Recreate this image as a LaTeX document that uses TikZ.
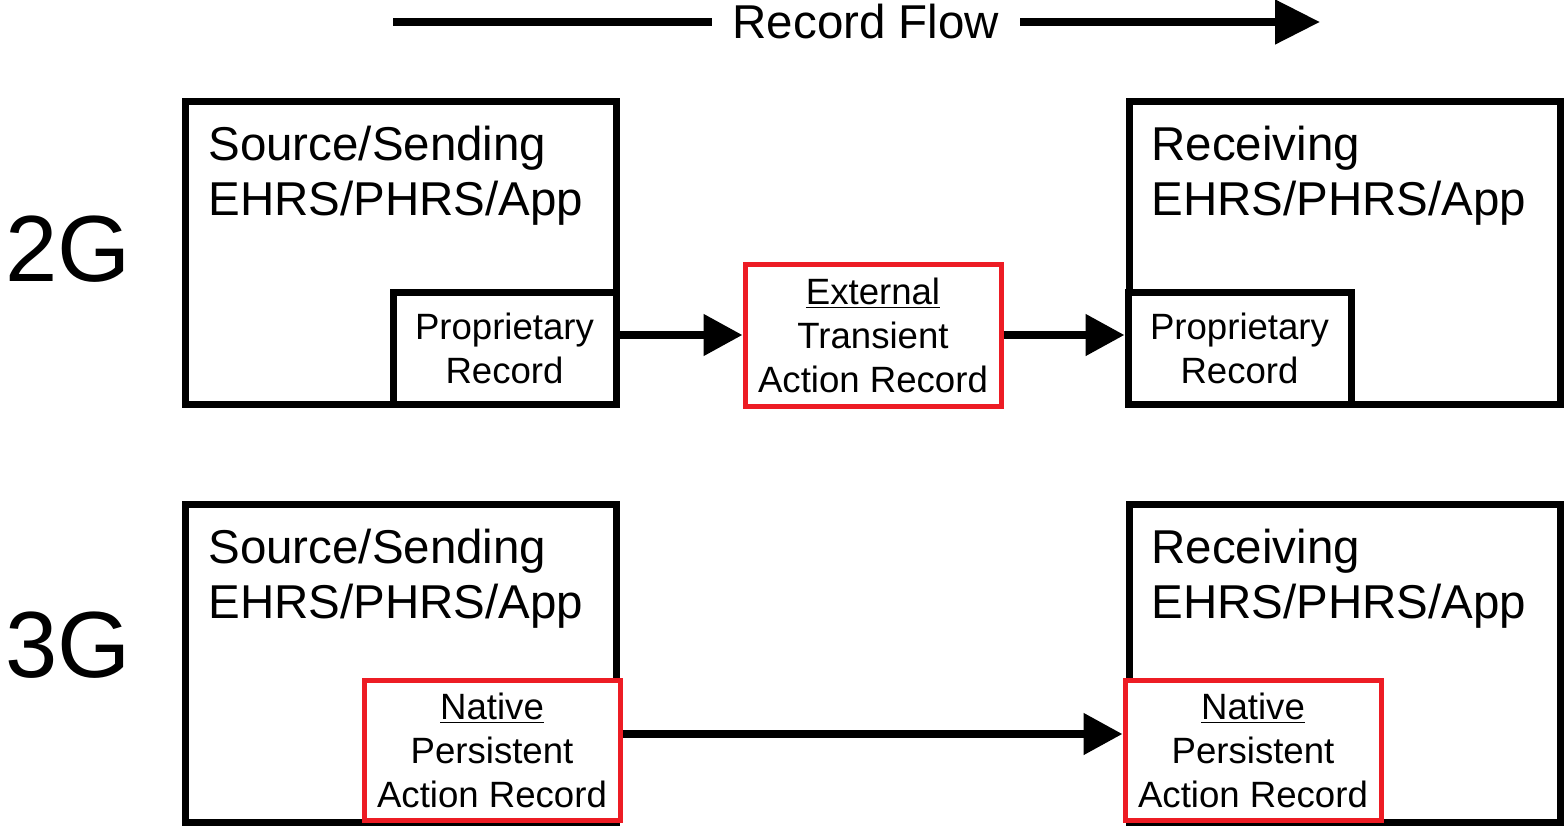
\documentclass[tikz,border=0pt]{standalone}
\usepackage{fontspec}
\setmainfont{Liberation Sans}
\usetikzlibrary{arrows.meta}
\definecolor{recred}{RGB}{237,28,36}

\begin{document}
\begin{tikzpicture}[x=0.5pt,y=-0.5pt,
	sysbox/.style={draw=black,line width=3.5pt,inner sep=0pt,minimum width=215.5pt},
	propbox/.style={draw=black,fill=white,line width=3.5pt,minimum width=111.5pt,minimum height=56pt,align=center,inner sep=0pt,font=\fontsize{18.3}{22}\selectfont},
	actbox/.style={draw=recred,fill=white,line width=2.5pt,minimum width=128pt,minimum height=70pt,align=center,inner sep=0pt,font=\fontsize{18.3}{22}\selectfont},
	systext/.style={anchor=base west,align=left,inner sep=0pt,font=\fontsize{23.75}{27.5}\selectfont},
	gentext/.style={inner sep=0pt,font=\fontsize{47}{52}\selectfont},
	flowarrow/.style={line width=4pt,-{Triangle[length=19.5pt,width=20pt]}}]
	\useasboundingbox (0,0) rectangle (1564,825);
	% record flow banner
	\coordinate (flowstart) at (393,22);
	\coordinate (flowend) at (1320,22);
	\node[inner sep=0pt,minimum width=154pt,font=\fontsize{23.75}{27.5}\selectfont] (flow) at (866,22) {Record Flow};
	\draw[line width=4pt] (flowstart) -- (flow.west);
	\draw[line width=4pt,-{Triangle[length=22.5pt,width=21.5pt]}] (flow.east) -- (flowend);
	% generation labels
	\node[gentext] (g2) at (68,249) {2G};
	\node[gentext] (g3) at (68,645) {3G};
	% 2G row
	\node[sysbox,minimum height=151.5pt] (src2) at (400.5,252.5) {};
	\node[sysbox,minimum height=151.5pt] (rcv2) at (1344.5,252.5) {};
	\node[systext] at (208,215) {Source/Sending\\EHRS/PHRS/App};
	\node[systext] at (1151,215) {Receiving\\EHRS/PHRS/App};
	\node[propbox] (propsrc) at (504.5,348) {Proprietary\\Record};
	\node[propbox] (proprcv) at (1239.5,348) {Proprietary\\Record};
	\node[actbox,minimum height=71pt] (ext) at (873,335) {\underline{External}\\Transient\\Action Record};
	\draw[flowarrow] (propsrc.east |- ext.west) -- (ext.west);
	\draw[flowarrow] (ext.east) -- (proprcv.west |- ext.east);
	% 3G row
	\node[sysbox,minimum height=159pt] (src3) at (400.5,663) {};
	\node[sysbox,minimum height=159pt] (rcv3) at (1344.5,663) {};
	\node[systext] at (208,618) {Source/Sending\\EHRS/PHRS/App};
	\node[systext] at (1151,618) {Receiving\\EHRS/PHRS/App};
	\node[actbox] (natsrc) at (492,750) {\underline{Native}\\Persistent\\Action Record};
	\node[actbox] (natrcv) at (1253,750) {\underline{Native}\\Persistent\\Action Record};
	\draw[flowarrow] ([yshift=8pt]natsrc.east) -- ([yshift=8pt]natrcv.west);
\end{tikzpicture}
\end{document}
